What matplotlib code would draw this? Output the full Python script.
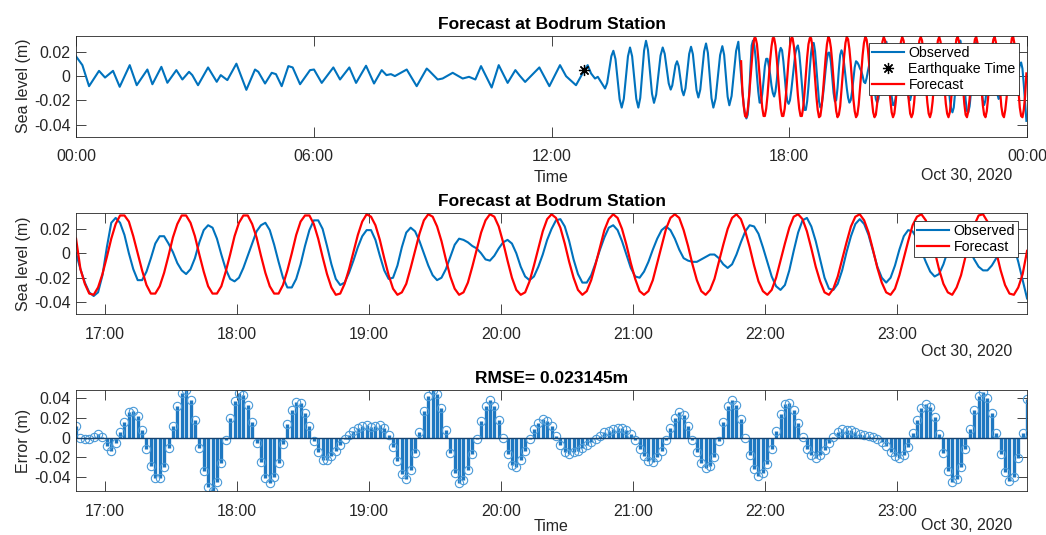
import numpy as np
import pandas as pd
import matplotlib
matplotlib.use("Agg")
import matplotlib.pyplot as plt
import matplotlib.dates as mdates
from matplotlib.ticker import FuncFormatter

plt.rcParams['font.family'] = ['Liberation Sans', 'DejaVu Sans']

# observed sea level, quiet part of the day (minutes after 00:00, metres)
pre_minutes = [0, 9.6, 19.7, 34.8, 43.9, 56, 66.1, 81.3, 91.9, 108, 115.6, 129.2, 138.3,
               151.9, 161, 171.1, 176, 184.7, 199.9, 213, 219.1, 229.1, 242.8, 257.9,
               271, 276, 286.2, 296.3, 302.7, 311.4, 321.5, 328, 339.2, 354.3, 360.3,
               372, 389.6, 399.7, 413.8, 424, 439.1, 451.2, 462.8, 470, 476.8, 482.8,
               500.7, 515.8, 531, 535, 547.6, 555, 570.3, 585.4, 595, 604.6, 613.2,
               629.3, 640, 653.5, 665.2, 672, 680, 701.5, 716.7, 732.8, 742, 757,
               769.7, 774.7, 779.8, 785.8, 790]
pre_level = [0.016, 0.0088, -0.0085, 0.0041, -0.0014, 0.0041, -0.009, 0.0088, -0.0077,
             0.0052, -0.0069, 0.0074, -0.0057, 0.0047, -0.003, 0.0033, 0.0006, -0.0077,
             0.0069, -0.0049, 0.0006, -0.0035, 0.010, -0.0115, 0.0052, 0.0033, -0.0063,
             0.0025, 0.0014, -0.0085, 0.008, 0.0069, -0.0069, 0.0047, 0.0052, -0.0058,
             0.0069, -0.003, 0.0069, -0.0058, 0.0083, -0.0063, 0.0047, 0.0006, 0.0014,
             -0.0002, 0.0052, -0.0085, 0.006, 0.004, -0.003, -0.0022, 0.0025, -0.0022,
             -0.0008, -0.003, 0.008, -0.0096, 0.0088, -0.0058, 0.0047, 0.000, -0.005,
             0.0069, -0.0085, 0.0088, -0.0003, -0.0077, 0.0047, 0.0088, 0.002, -0.0022,
             -0.0008]

# observed sea level after the quake, up to the forecast window
aq_minutes = [801, 804.2, 807.3, 810.5, 813.6, 816.8, 819.9, 823.1, 826.2, 829.4, 832.5,
              835.7, 838.8, 842.0, 845.1, 848.3, 851.4, 854.3, 857.2, 860.1, 863, 866.0,
              869.1, 872.1, 875.1, 878.4, 881.7, 885.0, 888.3, 891.3, 894.4, 897.4,
              900.4, 902.8, 905.2, 907.6, 910, 912.5, 915, 917.5, 920, 922.8, 925.6,
              928.4, 931.2, 934.0, 936.8, 939.5, 942.3, 945.2, 948.1, 951.0, 953.9,
              956.7, 959.5, 962.2, 965, 968.4, 971.8, 975.2, 978.6, 981.3, 983.9, 986.6,
              989.2, 992.6, 996.0, 999.4, 1002.8]
aq_level = [-0.0104, -0.0059, 0.0051, 0.0161, 0.0206, 0.0138, -0.0028, -0.0193, -0.0261,
            -0.0189, -0.0014, 0.0161, 0.0233, 0.0161, -0.0014, -0.0189, -0.0261, -0.0181,
            0.0014, 0.0208, 0.0288, 0.0213, 0.0033, -0.0147, -0.0222, -0.0155, 0.0006,
            0.0166, 0.0233, 0.0182, 0.006, -0.0062, -0.0113, -0.0079, 0.0004, 0.0086,
            0.012, 0.0079, -0.002, -0.0119, -0.016, -0.0102, 0.004, 0.0181, 0.0239,
            0.0178, 0.003, -0.0117, -0.0178, -0.0113, 0.0044, 0.0201, 0.0266, 0.0189,
            0.0003, -0.0184, -0.0261, -0.0187, -0.0009, 0.017, 0.0244, 0.0173, 0.0001,
            -0.0171, -0.0242, -0.0166, 0.0019, 0.0204, 0.028]

# forecast window, one value every 2 minutes from 16:47
win_start = "2020-10-30 16:47"
obs_win = [
    0.000, -0.013, -0.024, -0.032, -0.035, -0.032, -0.018, 0.005, 0.025, 0.029,
    0.025, 0.015, 0.000, -0.013, -0.022, -0.022, -0.015, -0.004, 0.008, 0.014,
    0.014, 0.008, 0.001, -0.008, -0.014, -0.017, -0.013, -0.004, 0.009, 0.019,
    0.023, 0.021, 0.012, -0.001, -0.013, -0.021, -0.023, -0.020, -0.012, -0.002,
    0.008, 0.018, 0.023, 0.025, 0.019, 0.007, -0.007, -0.020, -0.028, -0.028,
    -0.021, -0.009, 0.006, 0.019, 0.027, 0.027, 0.020, 0.006, -0.009, -0.021,
    -0.026, -0.024, -0.016, -0.006, 0.005, 0.014, 0.019, 0.019, 0.011, -0.002,
    -0.014, -0.021, -0.020, -0.010, 0.005, 0.017, 0.021, 0.018, 0.010, 0.000,
    -0.010, -0.018, -0.022, -0.020, -0.013, -0.003, 0.007, 0.012, 0.011, 0.009,
    0.006, 0.004, 0.000, -0.005, -0.006, -0.002, 0.004, 0.009, 0.011, 0.008,
    0.000, -0.011, -0.019, -0.022, -0.019, -0.011, -0.001, 0.011, 0.020, 0.027,
    0.028, 0.022, 0.010, -0.005, -0.017, -0.024, -0.024, -0.018, -0.008, 0.003,
    0.013, 0.021, 0.023, 0.019, 0.010, -0.001, -0.012, -0.019, -0.020, -0.015,
    -0.007, 0.003, 0.012, 0.019, 0.022, 0.019, 0.012, 0.003, -0.004, -0.006,
    -0.007, -0.007, -0.005, -0.003, -0.001, -0.001, -0.004, -0.009, -0.012, -0.009,
    -0.001, 0.009, 0.018, 0.023, 0.022, 0.016, 0.005, -0.007, -0.019, -0.027,
    -0.030, -0.026, -0.014, 0.002, 0.017, 0.027, 0.029, 0.022, 0.010, -0.005,
    -0.020, -0.029, -0.030, -0.025, -0.014, 0.001, 0.014, 0.024, 0.028, 0.024,
    0.015, 0.002, -0.011, -0.020, -0.024, -0.020, -0.010, 0.003, 0.014, 0.019,
    0.018, 0.012, 0.002, -0.007, -0.015, -0.019, -0.017, -0.009, 0.002, 0.011,
    0.014, 0.012, 0.008, 0.002, -0.005, -0.011, -0.014, -0.014, -0.010, -0.004,
    0.003, 0.009, 0.011, 0.006, -0.007, -0.022, -0.037]
fcst_win = [
    0.012, -0.013, -0.025, -0.033, -0.034, -0.028, -0.017, -0.003, 0.012, 0.024,
    0.031, 0.031, 0.026, 0.014, 0.000, -0.014, -0.026, -0.033, -0.033, -0.027,
    -0.016, -0.002, 0.013, 0.024, 0.031, 0.031, 0.025, 0.014, -0.001, -0.015,
    -0.027, -0.033, -0.033, -0.027, -0.015, -0.001, 0.014, 0.025, 0.031, 0.031,
    0.024, 0.013, -0.002, -0.016, -0.027, -0.033, -0.033, -0.026, -0.014, 0.000,
    0.015, 0.026, 0.031, 0.031, 0.024, 0.012, -0.003, -0.017, -0.028, -0.034,
    -0.033, -0.025, -0.013, 0.001, 0.015, 0.026, 0.032, 0.030, 0.023, 0.011,
    -0.004, -0.018, -0.029, -0.034, -0.032, -0.025, -0.012, 0.002, 0.016, 0.027,
    0.032, 0.030, 0.022, 0.010, -0.005, -0.019, -0.029, -0.034, -0.032, -0.024,
    -0.011, 0.003, 0.017, 0.027, 0.032, 0.030, 0.022, 0.009, -0.006, -0.020,
    -0.030, -0.034, -0.032, -0.023, -0.010, 0.004, 0.018, 0.028, 0.032, 0.029,
    0.021, 0.008, -0.007, -0.020, -0.030, -0.034, -0.031, -0.022, -0.009, 0.005,
    0.019, 0.028, 0.032, 0.029, 0.020, 0.007, -0.008, -0.021, -0.031, -0.034,
    -0.031, -0.022, -0.008, 0.006, 0.020, 0.029, 0.032, 0.029, 0.019, 0.006,
    -0.009, -0.022, -0.031, -0.034, -0.030, -0.021, -0.007, 0.007, 0.020, 0.029,
    0.032, 0.028, 0.018, 0.005, -0.010, -0.023, -0.031, -0.034, -0.030, -0.020,
    -0.006, 0.008, 0.021, 0.030, 0.032, 0.028, 0.018, 0.004, -0.011, -0.023,
    -0.032, -0.034, -0.029, -0.019, -0.005, 0.009, 0.022, 0.030, 0.032, 0.027,
    0.017, 0.003, -0.012, -0.024, -0.032, -0.034, -0.029, -0.018, -0.004, 0.010,
    0.023, 0.030, 0.032, 0.027, 0.016, 0.002, -0.013, -0.025, -0.032, -0.034,
    -0.028, -0.018, -0.003, 0.011, 0.023, 0.031, 0.032, 0.026, 0.015, 0.001,
    -0.014, -0.026, -0.033, -0.034, -0.028, -0.017, 0.002]

quake_minute = 769.7
quake_level = 0.0047
rmse_text = "RMSE= 0.023145m"
date_text = "Oct 30, 2020"

# time axes
day = pd.Timestamp("2020-10-30")
pre_t = day + pd.to_timedelta(pre_minutes + aq_minutes, unit="min")
win_t = pd.date_range(win_start, periods=len(obs_win), freq="2min")
obs_t = pre_t.append(win_t)
obs_all = np.concatenate([pre_level, aq_level, obs_win])
err = np.array(fcst_win) - np.array(obs_win)
quake_t = day + pd.Timedelta(minutes=quake_minute)

blue = '#0072BD'
axc = '#262626'
fs = 11.5

fig = plt.figure(figsize=(10.46, 5.35), dpi=100)
ax1 = fig.add_axes([0.0727, 0.7445, 0.9092, 0.1888])
ax2 = fig.add_axes([0.0727, 0.4125, 0.9092, 0.1893])
ax3 = fig.add_axes([0.0727, 0.0817, 0.9092, 0.1899])

yfmt = FuncFormatter(lambda v, _: '0' if abs(v) < 1e-9 else f'{v:g}')


def style(ax):
    for s in ax.spines.values():
        s.set_color(axc)
        s.set_linewidth(0.6)
    ax.tick_params(direction='in', length=7, width=0.6, colors=axc,
                   labelsize=fs, top=True, right=True)
    ax.tick_params(axis='x', pad=9)
    ax.tick_params(axis='y', pad=4)
    ax.yaxis.set_major_formatter(yfmt)
    ax.xaxis.set_major_formatter(mdates.DateFormatter('%H:%M'))


# --- top panel: whole day
l_obs, = ax1.plot(obs_t, obs_all, color=blue, lw=1.5, solid_joinstyle='round')
l_eq, = ax1.plot([quake_t], [quake_level], linestyle='none', marker=(8, 2, 0),
                 color='k', markersize=8, markeredgewidth=0.9)
l_fc, = ax1.plot(win_t, fcst_win, color='r', lw=1.6, solid_joinstyle='round')
ax1.set_xlim(day, day + pd.Timedelta(hours=24))
ax1.set_ylim(-0.050, 0.033)
ax1.set_yticks([-0.04, -0.02, 0, 0.02])
ax1.xaxis.set_major_locator(mdates.HourLocator(byhour=[0, 6, 12, 18]))
style(ax1)
ax1.set_title('Forecast at Bodrum Station', fontsize=12.5, fontweight='bold', pad=5)
ax1.set_ylabel('Sea level (m)', fontsize=fs, color=axc, labelpad=2)
ax1.set_xlabel('Time', fontsize=fs, color=axc, labelpad=4)
leg = ax1.legend([l_obs, l_eq, l_fc], ['Observed', 'Earthquake Time', 'Forecast'],
                 loc='upper right', bbox_to_anchor=(0.991, 0.925), borderaxespad=0,
                 fontsize=10.2, fancybox=False, framealpha=1, edgecolor=axc,
                 borderpad=0.2, labelspacing=0.15, handletextpad=0.3, handlelength=2.3)
leg.get_frame().set_linewidth(0.6)

# --- middle panel: forecast window
m_obs, = ax2.plot(win_t, obs_win, color=blue, lw=1.5, solid_joinstyle='round')
m_fc, = ax2.plot(win_t, fcst_win, color='r', lw=1.6, solid_joinstyle='round')
ax2.set_xlim(win_t[0], win_t[-1])
ax2.set_ylim(-0.050, 0.033)
ax2.set_yticks([-0.04, -0.02, 0, 0.02])
ax2.xaxis.set_major_locator(mdates.HourLocator())
style(ax2)
ax2.set_title('Forecast at Bodrum Station', fontsize=12.5, fontweight='bold', pad=5)
ax2.set_ylabel('Sea level (m)', fontsize=fs, color=axc, labelpad=2)
leg2 = ax2.legend([m_obs, m_fc], ['Observed', 'Forecast'],
                  loc='upper right', bbox_to_anchor=(0.9905, 0.924), borderaxespad=0,
                  fontsize=10.2, fancybox=False, framealpha=1, edgecolor=axc,
                  borderpad=0.2, labelspacing=0.15, handletextpad=0.3, handlelength=2.3)
leg2.get_frame().set_linewidth(0.6)

# --- bottom panel: error stems
ax3.vlines(win_t, 0, err, color='#1f78c1', lw=2.4)
ax3.plot(win_t, err, linestyle='none', marker='o', markersize=6,
         markerfacecolor='none', markeredgecolor='#4a9ad8', markeredgewidth=0.8)
ax3.axhline(0, color='#16426e', lw=1.0)
ax3.set_xlim(win_t[0], win_t[-1])
ax3.set_ylim(-0.0543, 0.0486)
ax3.set_yticks([-0.04, -0.02, 0, 0.02, 0.04])
ax3.xaxis.set_major_locator(mdates.HourLocator())
style(ax3)
ax3.set_title(rmse_text, fontsize=12.5, fontweight='bold', pad=5)
ax3.set_ylabel('Error (m)', fontsize=fs, color=axc, labelpad=2)
ax3.set_xlabel('Time', fontsize=fs, color=axc, labelpad=0)

for yy in (0.6716, 0.3426, 0.0175):
    fig.text(0.9675, yy, date_text, ha='right', va='center', fontsize=fs, color=axc)

fig.savefig('out.png', dpi=100)
